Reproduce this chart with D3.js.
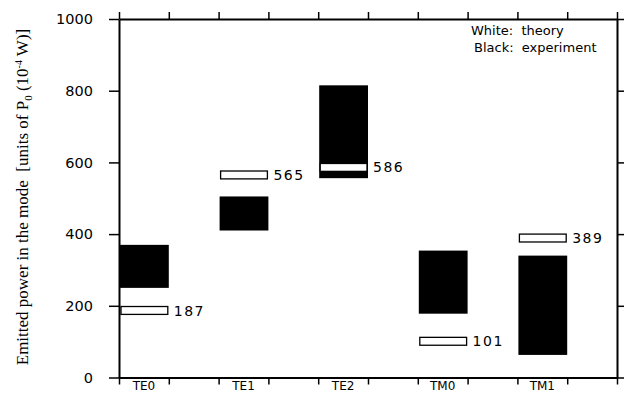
<!DOCTYPE html>
<html><head><meta charset="utf-8">
<script src="https://cdn.jsdelivr.net/npm/d3@7"></script>
<style>body{margin:0;background:#fff}svg{display:block}</style>
</head><body>
<svg id="c" width="624" height="394"></svg>
<script>
const categories = ["TE0","TE1","TE2","TM0","TM1"];
const categorySlot = [0, 2, 4, 6, 8];
const expLow  = [250, 410, 556, 178, 63];
const expHigh = [370, 505, 815, 354, 340];
const theory  = [187, 565, 586, 101, 389];
const yTicks = [0, 200, 400, 600, 800, 1000];
const xTicks = [0,1,2,3,4,5,6,7,8,9,10];

const svg = d3.select("#c");
const x = d3.scaleLinear().domain([0,10]).range([119, 617]);
const y = d3.scaleLinear().domain([0,1000]).range([377.5, 19]);
const font = "'DejaVu Sans', sans-serif";

// experiment bars
svg.append("g").selectAll("rect").data(categories).join("rect")
  .attr("x", (d,i)=>x(categorySlot[i])+1)
  .attr("width", (d,i)=>x(categorySlot[i]+1)-x(categorySlot[i])-1)
  .attr("y", (d,i)=>y(expHigh[i]))
  .attr("height", (d,i)=>y(expLow[i])-y(expHigh[i]))
  .attr("fill","#000");

// theory bars
const tw = 11;
svg.append("g").selectAll("rect").data(categories).join("rect")
  .attr("x", (d,i)=>x(categorySlot[i])+2)
  .attr("width", (d,i)=>x(categorySlot[i]+1)-x(categorySlot[i])-3)
  .attr("y", (d,i)=>y(theory[i]+tw))
  .attr("height", (d,i)=>y(theory[i]-tw)-y(theory[i]+tw))
  .attr("fill","#fff").attr("stroke","#000").attr("stroke-width",1.3);

svg.append("g").selectAll("text").data(categories).join("text")
  .attr("x", (d,i)=>x(categorySlot[i]+1)+5)
  .attr("y", (d,i)=>y(theory[i]))
  .attr("dy","0.36em")
  .attr("font-family", font).attr("font-size", 14)
  .attr("letter-spacing", "1.5px")
  .text((d,i)=>theory[i]);

// axes
const sw = 2;
const axisStyle = g => { g.select(".domain").attr("stroke-width", sw); g.selectAll(".tick line").attr("stroke-width", 1.5); g.selectAll("text").remove(); };
svg.append("g").attr("transform",`translate(${x(0)},0)`)
  .call(d3.axisLeft(y).tickValues(yTicks).tickSize(10).tickSizeOuter(0)).call(axisStyle);
svg.append("g").attr("transform",`translate(${x(10)},0)`)
  .call(d3.axisRight(y).tickValues(yTicks).tickSize(9).tickSizeOuter(0)).call(axisStyle);
svg.append("g").attr("transform",`translate(0,${y(1000)})`)
  .call(d3.axisTop(x).tickValues(xTicks).tickSize(7).tickSizeOuter(0)).call(axisStyle);
svg.append("g").attr("transform",`translate(0,${y(0)})`)
  .call(d3.axisBottom(x).tickValues(xTicks).tickSize(7).tickSizeOuter(0)).call(axisStyle);

// y tick labels
svg.append("g").selectAll("text").data(yTicks).join("text")
  .attr("x", 93).attr("y", d=>y(d)).attr("dy","0.36em")
  .attr("text-anchor","end").attr("font-family", font).attr("font-size", 14.5)
  .text(d=>d);

// category labels
svg.append("g").selectAll("text").data(categories).join("text")
  .attr("x", (d,i)=>x(categorySlot[i]+0.5)).attr("y", 390)
  .attr("text-anchor","middle").attr("font-family", font).attr("font-size", 12)
  .text(d=>d);

// legend
svg.append("text").attr("x", 471).attr("y", 35).attr("font-family", font).attr("font-size", 13)
  .attr("xml:space","preserve").text("White:  theory");
svg.append("text").attr("x", 474).attr("y", 52).attr("font-family", font).attr("font-size", 13)
  .attr("xml:space","preserve").text("Black:  experiment");

// y title
const yt = svg.append("text").attr("transform","translate(28,197) rotate(-90)")
  .attr("text-anchor","middle").attr("font-family","'Liberation Serif', 'Times New Roman', serif")
  .attr("font-size", 17);
yt.append("tspan").attr("xml:space","preserve").text("Emitted power in the mode  [units of P");
yt.append("tspan").attr("font-size", 11).attr("dy", 4).text("0");
yt.append("tspan").attr("dy", -4).text(" (10");
yt.append("tspan").attr("font-size", 10).attr("dy", -6).text("-4");
yt.append("tspan").attr("dy", 6).text(" W)]");
</script>
</body></html>
